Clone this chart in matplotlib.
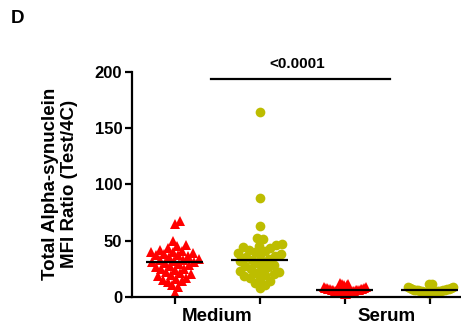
import numpy as np
import matplotlib
matplotlib.use("Agg")
import matplotlib.pyplot as plt

plt.rcParams['font.family'] = ['Liberation Sans', 'DejaVu Sans']
plt.rcParams['font.weight'] = 'bold'

# MFI ratios per donor
red_medium = [67, 65, 50, 46, 45, 43, 42, 41, 40, 40, 39, 38, 37, 37, 36, 35, 34, 33, 33,
              32, 31, 31, 30, 29, 28, 27, 26, 25, 25, 24, 22, 21, 20, 19, 18, 17, 16, 15,
              14, 13, 10, 9, 3]
olive_medium = [164, 88, 63, 52, 51, 47, 46, 45, 44, 43, 42, 41, 40, 39, 38, 37, 36, 35, 34,
                33, 32, 31, 30, 28, 27, 26, 25, 24, 23, 22, 21, 20, 19, 18, 17, 16, 14, 12,
                10, 8]
red_serum = [12, 11, 11, 10, 10, 9, 9, 9, 8, 8, 8, 7, 7, 7, 7, 6, 6, 6, 6, 6, 5, 5, 5, 5,
             4, 4, 4, 4, 3, 3, 3, 2, 2]
olive_serum = [11, 11, 10, 9, 9, 8, 8, 7, 7, 7, 6, 6, 6, 6, 6, 5, 5, 5, 5, 5, 4, 4, 4, 4,
               3, 3, 3]

groups = ["Medium", "Serum"]
p_label = "<0.0001"

RED = "#ff0000"
OLIVE = "#bdbd00"

DPI = 100
X_PX = 85.0          # pixels per x unit
Y_PX = 224.0 / 200   # pixels per y unit


def swarm_offsets(vals, dia, half_width):
    ys = np.asarray(vals, dtype=float) * Y_PX
    xs = np.zeros(len(ys))
    placed = []
    for i in np.argsort(ys):
        y = ys[i]
        cands = [0.0]
        for px, py in placed:
            dy = y - py
            if abs(dy) < dia:
                dx = np.sqrt(dia ** 2 - dy ** 2)
                cands += [px + dx, px - dx]
        cands.sort(key=abs)
        for c in cands:
            if all((c - px) ** 2 + (y - py) ** 2 >= dia ** 2 - 1e-6 for px, py in placed):
                xs[i] = c
                break
        placed.append((xs[i], y))
    # squeeze the swarm into the column width
    widest = np.abs(xs).max()
    if widest > half_width:
        xs = xs * half_width / widest
    return xs / X_PX


fig = plt.figure(figsize=(4.61, 3.32), dpi=DPI)
ax = fig.add_axes([132 / 461, (332 - 296.7) / 332, 340 / 461, 224.7 / 332])

series = [
    (1, red_medium, RED, "^", 6.8, 8.5, 24),
    (2, olive_medium, OLIVE, "o", 7.0, 9.0, 22),
    (3, red_serum, RED, "^", 6.8, 8.5, 21),
    (4, olive_serum, OLIVE, "o", 7.0, 9.0, 23),
]
for pos, vals, col, mk, ms, dia, hw in series:
    xs = pos + swarm_offsets(vals, dia, hw)
    ax.plot(xs, vals, linestyle="none", marker=mk, color=col, markersize=ms,
            markeredgewidth=0, clip_on=False, zorder=2)
    med = np.median(vals)
    ax.plot([pos - 0.33, pos + 0.33], [med, med], color="black", lw=1.6, zorder=3,
            solid_capstyle="butt")

ax.set_xlim(0.5, 4.5)
ax.set_ylim(0, 200)
ax.set_yticks([0, 50, 100, 150, 200])
ax.set_xticks([1, 2, 3, 4])
ax.set_xticklabels([])
ax.tick_params(axis="y", labelsize=12, width=1.6, length=5, pad=2)
ax.tick_params(axis="x", width=1.6, length=5)
for lab in ax.get_yticklabels():
    lab.set_fontweight("bold")
for side in ["top", "right"]:
    ax.spines[side].set_visible(False)
for side in ["left", "bottom"]:
    ax.spines[side].set_linewidth(1.6)

for i, g in enumerate(groups):
    ax.text(1.5 + 2 * i, -10, g, ha="center", va="top", fontsize=13.5, fontweight="bold")

ax.set_ylabel("Total Alpha-synuclein\nMFI Ratio (Test/4C)", fontsize=13.5,
              fontweight="bold", linespacing=1.1)
ax.yaxis.label.set_va("center")
ax.yaxis.set_label_coords(-0.212, 0.504)

# significance bar
ax.plot([1.43, 3.54], [194, 194], color="black", lw=1.6, clip_on=False)
ax.text(2.44, 201, p_label, ha="center", va="bottom", fontsize=11, fontweight="bold")

fig.text(11 / 461, 1 - 18.5 / 332, "D", fontsize=13.5, fontweight="bold", va="center")

fig.savefig("out.png", dpi=DPI)
